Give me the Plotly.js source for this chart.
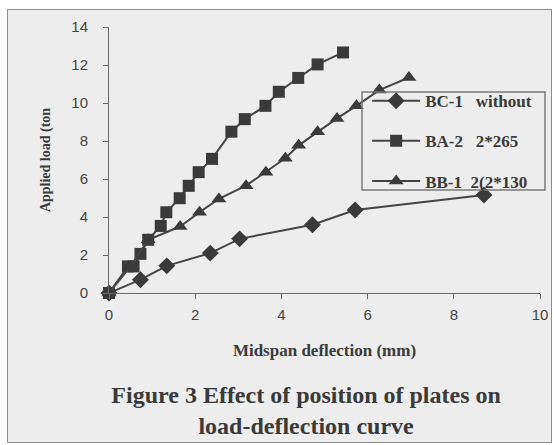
<!DOCTYPE html>
<html>
<head>
<meta charset="utf-8">
<script src="https://cdn.plot.ly/plotly-3.0.1.min.js"></script>
<style>
  html, body { margin: 0; padding: 0; background: #ffffff; }
  #chart { position: absolute; left: 7px; top: 9px; width: 543px; height: 432px; border: 1px solid #8c8c8c; }
</style>
</head>
<body>
<div id="chart"></div>
<script>
// ---- data ----
const seriesNames = ["BC-1\u00a0\u00a0\u00a0without", "BA-2\u00a0\u00a0\u00a02*265", "BB-1\u00a0\u00a02(2*130"];

const bc1X = [0, 0.73, 1.34, 2.35, 3.03, 4.72, 5.71, 8.70];
const bc1Y = [0, 0.70, 1.43, 2.10, 2.85, 3.59, 4.37, 5.16];

const ba2X = [0, 0.44, 0.57, 0.73, 0.91, 1.20, 1.33, 1.64, 1.85, 2.08, 2.39, 2.84, 3.15, 3.63, 3.94, 4.39, 4.84, 5.43];
const ba2Y = [0, 1.40, 1.40, 2.06, 2.80, 3.53, 4.25, 4.99, 5.64, 6.36, 7.06, 8.49, 9.15, 9.85, 10.59, 11.32, 12.03, 12.66];

const bb1X = [0, 0.50, 0.91, 1.65, 2.10, 2.55, 3.18, 3.64, 4.09, 4.40, 4.84, 5.29, 5.74, 6.27, 6.96];
const bb1Y = [0, 1.40, 2.80, 3.50, 4.25, 4.95, 5.65, 6.36, 7.09, 7.77, 8.49, 9.19, 9.85, 10.68, 11.34];

const xTicks = [0, 2, 4, 6, 8, 10];
const yTicks = [0, 2, 4, 6, 8, 10, 12, 14];

const xTitle = "Midspan deflection (mm)";
const yTitle = "Applied load (ton";
const caption = "Figure 3 Effect of position of plates on<br>load-deflection curve";

// ---- styling ----
const ink = "#3a3a3a";
const serif = "Liberation Serif, Times New Roman, serif";
const narrow = "Liberation Sans Narrow, Liberation Sans, Arial, sans-serif";

function trace(x, y, name, symbol, size, group) {
  return {
    x: x, y: y, name: name, type: "scatter", mode: "lines+markers",
    legendgroup: group,
    line: { color: "#444444", width: 2 },
    marker: { symbol: symbol, size: size, color: ink, line: { width: 0 } },
    cliponaxis: false
  };
}

const data = [
  trace(bc1X, bc1Y, seriesNames[0], "diamond", 13, "a"),
  trace(ba2X, ba2Y, seriesNames[1], "square", 12, "b"),
  trace(bb1X, bb1Y, seriesNames[2], "triangle-up", 13, "c")
];

const layout = {
  width: 543, height: 432,
  margin: { l: 101, r: 11, t: 17, b: 149 },
  paper_bgcolor: "#ededed",
  plot_bgcolor: "rgba(0,0,0,0)",
  showlegend: true,
  title: {
    text: caption,
    font: { family: serif, size: 24, color: ink, weight: "bold" },
    xref: "container", yref: "container",
    x: 0.549, xanchor: "center",
    y: 0.09, yanchor: "middle"
  },
  xaxis: {
    range: [0, 10], tickvals: xTicks, ticktext: xTicks.map(String),
    showgrid: false, zeroline: false,
    showline: true, linecolor: "#6a6a6a", linewidth: 1,
    ticks: "outside", ticklen: 5, tickcolor: "#6a6a6a",
    ticklabelstandoff: 3,
    tickfont: { family: narrow, size: 15, color: "#444444" },
    title: { text: xTitle, standoff: 22, font: { family: serif, size: 17, color: ink, weight: "bold" } },
    fixedrange: true
  },
  yaxis: {
    range: [0, 14], tickvals: yTicks, ticktext: yTicks.map(String),
    showgrid: false, zeroline: false,
    showline: true, linecolor: "#6a6a6a", linewidth: 1,
    ticks: "outside", ticklen: 5, tickcolor: "#6a6a6a",
    ticklabelstandoff: 12,
    tickfont: { family: narrow, size: 15, color: "#444444" },
    title: { text: yTitle, standoff: 17, font: { family: serif, size: 14, color: ink, weight: "bold" } },
    fixedrange: true
  },
  legend: {
    x: 0.599, xanchor: "left", y: 0.789, yanchor: "top",
    bgcolor: "rgba(0,0,0,0)", borderwidth: 0,
    font: { family: serif, size: 17, color: ink, weight: "bold" },
    itemwidth: 48,
    traceorder: "grouped",
    tracegroupgap: 15
  },
  shapes: [{
    type: "rect", xref: "paper", yref: "paper",
    x0: 0.587, x1: 1.0116, y0: 0.387, y1: 0.756,
    line: { color: "#7a7a7a", width: 1.5 }, fillcolor: "rgba(0,0,0,0)", layer: "above"
  }]
};

Plotly.newPlot("chart", data, layout, { staticPlot: true, displayModeBar: false });
</script>
</body>
</html>
